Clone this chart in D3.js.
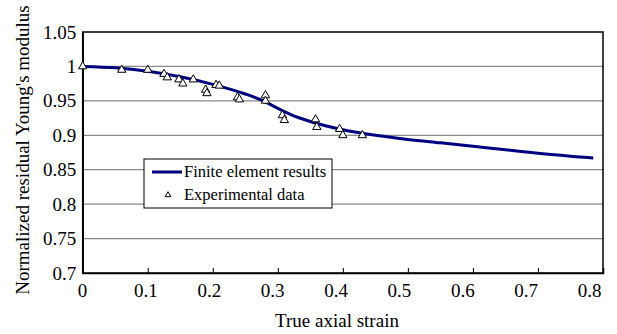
<!DOCTYPE html>
<html>
<head>
<meta charset="utf-8">
<script src="https://cdn.jsdelivr.net/npm/d3@7"></script>
<style>
  body { margin: 0; background: #fff; }
  svg { display: block; font-family: "Liberation Serif", "Times New Roman", serif; }
</style>
</head>
<body>
<div id="chart"></div>
<script>
/* --- Data --- */
const xTicks = [0, 0.1, 0.2, 0.3, 0.4, 0.5, 0.6, 0.7, 0.8];
const yTicks = [0.7, 0.75, 0.8, 0.85, 0.9, 0.95, 1, 1.05];

// Finite element results (strain, normalized modulus)
const feStrain = [0, 0.05, 0.1, 0.15, 0.2, 0.25, 0.28, 0.3, 0.32, 0.35, 0.4, 0.45, 0.5, 0.55, 0.6, 0.65, 0.7, 0.785];
const feModulus = [1.0, 0.998, 0.993, 0.985, 0.974, 0.960, 0.949, 0.939, 0.930, 0.920, 0.908, 0.9, 0.894, 0.889, 0.884, 0.879, 0.874, 0.867];

// Experimental data
const expStrain = [0, 0.06, 0.1, 0.125, 0.13, 0.148, 0.154, 0.17, 0.189, 0.191, 0.205, 0.21, 0.238, 0.241, 0.281, 0.281, 0.307, 0.31, 0.358, 0.36, 0.395, 0.4, 0.43];
const expModulus = [1.0, 0.995, 0.995, 0.989, 0.984, 0.981, 0.975, 0.981, 0.966, 0.961, 0.973, 0.972, 0.955, 0.952, 0.958, 0.95, 0.929, 0.922, 0.923, 0.912, 0.909, 0.9, 0.9];

const legendLabels = ["Finite element results", "Experimental data"];

/* --- Layout --- */
const W = 617, H = 334;
const plot = { left: 82.7, right: 603, top: 32, bottom: 273 };
const lineColor = "#000080";
const serif = '"Liberation Serif", "Times New Roman", serif';

const svg = d3.select("#chart").append("svg")
    .attr("width", W).attr("height", H);

svg.append("rect").attr("width", W).attr("height", H).attr("fill", "#fff");

const x = d3.scaleLinear().domain([0, 0.8]).range([plot.left, plot.right]);
const y = d3.scaleLinear().domain([0.7, 1.05]).range([plot.bottom, plot.top]);
// tick labels in the reference sit slightly left of their ticks
const xLabel = d3.scaleLinear().domain([0, 0.8]).range([82, 589]);

// gridlines
svg.append("g")
    .selectAll("line")
    .data(yTicks.filter(d => d > 0.7 && d < 1.05))
    .join("line")
    .attr("x1", plot.left).attr("x2", plot.right)
    .attr("y1", d => y(d)).attr("y2", d => y(d))
    .attr("stroke", "#8a8a8a").attr("stroke-width", 1.3);

// plot frame (top/right)
svg.append("rect")
    .attr("x", plot.left).attr("y", plot.top)
    .attr("width", plot.right - plot.left).attr("height", plot.bottom - plot.top)
    .attr("fill", "none").attr("stroke", "#000").attr("stroke-width", 1.5);

// x axis: inner tick marks
const xAxis = svg.append("g")
    .attr("transform", `translate(0,${plot.bottom})`)
    .call(d3.axisTop(x).tickValues(xTicks).tickSize(5).tickFormat(""));
xAxis.select(".domain").attr("stroke", "#000").attr("stroke-width", 1.5);
xAxis.selectAll(".tick line").attr("stroke", "#000");

// x tick labels
const xLab = svg.append("g")
    .attr("transform", `translate(0,${plot.bottom})`)
    .call(d3.axisBottom(xLabel).tickValues(xTicks).tickSize(0).tickPadding(0).tickFormat(d3.format("")));
xLab.attr("font-family", serif);
xLab.select(".domain").remove();
xLab.selectAll("text")
    .attr("y", 23.5).attr("dy", 0)
    .attr("fill", "#000")
    .style("font-size", "19px");

// y axis
const yAxis = svg.append("g")
    .attr("transform", `translate(${plot.left},0)`)
    .call(d3.axisLeft(y).tickValues(yTicks).tickSize(0).tickPadding(6.5).tickFormat(d3.format("")));
yAxis.attr("font-family", serif);
yAxis.select(".domain").attr("stroke", "#000").attr("stroke-width", 1.5);
yAxis.selectAll("text")
    .attr("fill", "#000")
    .style("font-size", "19px");

// axis titles
svg.append("text")
    .attr("x", 337).attr("y", 327)
    .attr("text-anchor", "middle")
    .style("font-size", "19px")
    .text("True axial strain");

svg.append("text")
    .attr("transform", "translate(29,150) rotate(-90)")
    .attr("text-anchor", "middle")
    .style("font-size", "19px")
    .text("Normalized residual Young's modulus");

// FE line
const feData = feStrain.map((s, i) => ({ s, m: feModulus[i] }));
const line = d3.line()
    .x(d => x(d.s))
    .y(d => y(d.m))
    .curve(d3.curveMonotoneX);

svg.append("path")
    .datum(feData)
    .attr("d", line)
    .attr("fill", "none")
    .attr("stroke", lineColor)
    .attr("stroke-width", 3);

// experimental triangles
const expData = expStrain.map((s, i) => ({ s, m: expModulus[i] }));
const tri = d3.symbol().type(d3.symbolTriangle).size(30);

svg.append("g")
    .selectAll("path")
    .data(expData)
    .join("path")
    .attr("d", tri)
    .attr("transform", d => `translate(${x(d.s)},${y(d.m)})`)
    .attr("fill", "#fff")
    .attr("stroke", "#000")
    .attr("stroke-width", 1);

// legend
const legend = svg.append("g");
legend.append("rect")
    .attr("x", 144).attr("y", 159)
    .attr("width", 188).attr("height", 49)
    .attr("fill", "#fff").attr("stroke", "#000").attr("stroke-width", 1);

legend.append("line")
    .attr("x1", 152).attr("x2", 182)
    .attr("y1", 172).attr("y2", 172)
    .attr("stroke", lineColor).attr("stroke-width", 3);

legend.append("path")
    .attr("d", d3.symbol().type(d3.symbolTriangle).size(14))
    .attr("transform", "translate(168,195)")
    .attr("fill", "#fff").attr("stroke", "#000").attr("stroke-width", 1);

legend.selectAll("text.lab")
    .data(legendLabels)
    .join("text")
    .attr("class", "lab")
    .attr("x", 184)
    .attr("y", (d, i) => 172 + i * 23)
    .attr("dy", "0.33em")
    .style("font-size", "16.5px")
    .text(d => d);
</script>
</body>
</html>
